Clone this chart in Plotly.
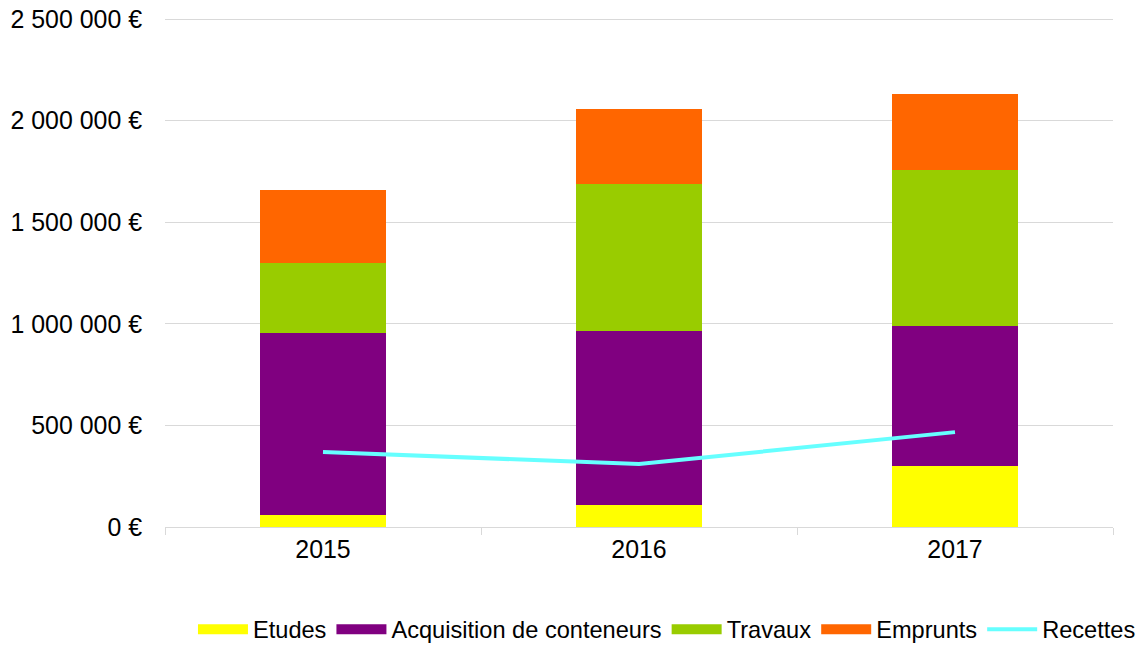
import plotly.graph_objects as go

years = ["2015", "2016", "2017"]
etudes = [60000, 108000, 300000]
acquisition = [895000, 857000, 689000]
travaux = [345000, 723000, 768000]
emprunts = [359000, 369000, 374000]
recettes = [369000, 310000, 467000]

y_ticks = [0, 500000, 1000000, 1500000, 2000000, 2500000]
y_tick_labels = ["0 €", "500 000 €", "1 000 000 €", "1 500 000 €", "2 000 000 €", "2 500 000 €"]

bar_series = [
    ("Etudes", etudes, "#FFFF00"),
    ("Acquisition de conteneurs", acquisition, "#800080"),
    ("Travaux", travaux, "#99CC00"),
    ("Emprunts", emprunts, "#FF6600"),
]

fig = go.Figure()
for name, vals, col in bar_series:
    fig.add_trace(go.Bar(x=years, y=vals, name=name, legendgroup=name, showlegend=False,
                         marker=dict(color=col, line=dict(width=0))))

fig.add_trace(go.Scatter(x=years, y=recettes, name="Recettes", mode="lines", showlegend=False,
                         legendgroup="Recettes", line=dict(color="#66FFFF", width=4)))

# legend entries (swatches shaped like the reference's wide rectangles)
for name, vals, col in bar_series:
    fig.add_trace(go.Scatter(x=[None], y=[None], name=name, legendgroup=name, mode="lines",
                             line=dict(color=col, width=11)))
fig.add_trace(go.Scatter(x=[None], y=[None], name="Recettes", legendgroup="Recettes", mode="lines",
                         line=dict(color="#66FFFF", width=4)))

fig.update_layout(
    width=1145, height=647,
    barmode="stack", bargap=0.6,
    plot_bgcolor="white", paper_bgcolor="white",
    margin=dict(l=157, r=40, t=7, b=128, autoexpand=False),
    font=dict(family="Liberation Sans, Arial, sans-serif", size=24.9, color="black"),
    showlegend=True,
    legend=dict(orientation="h", x=0.5295, xanchor="center", y=-0.157, yanchor="top",
                font=dict(size=23.6), traceorder="normal", itemwidth=50, tracegroupgap=0,
                bgcolor="rgba(0,0,0,0)"),
)
fig.update_xaxes(showline=True, linecolor="#D9D9D9", linewidth=1,
                 ticks="outside", tickson="boundaries", ticklen=7, tickcolor="#D9D9D9",
                 showgrid=False, tickfont=dict(size=24.9), automargin=False)
fig.update_yaxes(range=[0, 2520000], tickvals=y_ticks, ticktext=y_tick_labels,
                 showgrid=True, gridcolor="#D9D9D9", gridwidth=1, zeroline=False,
                 ticks="", tickfont=dict(size=24.9), ticklabelstandoff=22, automargin=False,
                 ticklabeloverflow="allow")

fig.write_html("out.html")
